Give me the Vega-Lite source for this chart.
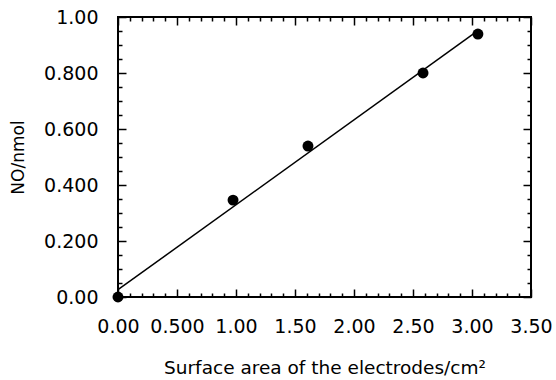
{
  "$schema": "https://vega.github.io/schema/vega-lite/v6.json",
  "width": 413,
  "height": 280,
  "autosize": {"type": "none"},
  "padding": {"left": 118, "top": 17, "right": 25, "bottom": 83},
  "background": "white",
  "config": {
    "view": {"stroke": "black", "strokeWidth": 2},
    "font": "DejaVu Sans",
    "axis": {
      "domain": false,
      "grid": false,
      "tickColor": "black",
      "tickWidth": 1.5,
      "labelColor": "black",
      "titleColor": "black",
      "labelFont": "DejaVu Sans",
      "titleFont": "DejaVu Sans",
      "labelFontSize": 19,
      "titleFontSize": 18.5,
      "titleFontWeight": "normal",
      "labelOverlap": false,
      "labelFlush": false,
      "labelBound": false
    }
  },
  "datasets": {
    "pts": [
      {"area": 0.0, "no": 0.0},
      {"area": 0.975, "no": 0.346},
      {"area": 1.61, "no": 0.539},
      {"area": 2.585, "no": 0.8},
      {"area": 3.05, "no": 0.939}
    ],
    "fit": [
      {"area": 0.0, "no": 0.026},
      {"area": 3.05, "no": 0.951}
    ]
  },
  "resolve": {"axis": {"x": "independent", "y": "independent"}},
  "layer": [
    {
      "data": {"name": "fit"},
      "mark": {"type": "line", "color": "black", "strokeWidth": 1.5},
      "encoding": {
        "x": {"field": "area", "type": "quantitative", "scale": {"domain": [0, 3.5], "nice": false, "zero": false},
          "axis": {"orient": "top", "values": [0, 0.5, 1, 1.5, 2, 2.5, 3, 3.5], "labels": false, "tickSize": -8, "title": null}},
        "y": {"field": "no", "type": "quantitative", "scale": {"domain": [0, 1], "nice": false},
          "axis": {"orient": "right", "values": [0, 0.2, 0.4, 0.6, 0.8, 1.0], "labels": false, "tickSize": -8, "title": null}}
      }
    },
    {
      "data": {"name": "pts"},
      "mark": {"type": "point", "opacity": 0},
      "encoding": {
        "x": {"field": "area", "type": "quantitative",
          "axis": {"orient": "bottom", "values": [0.1,0.2,0.3,0.4,0.6,0.7,0.8,0.9,1.1,1.2,1.3,1.4,1.6,1.7,1.8,1.9,2.1,2.2,2.3,2.4,2.6,2.7,2.8,2.9,3.1,3.2,3.3,3.4], "labels": false, "tickSize": -4, "title": null}},
        "y": {"field": "no", "type": "quantitative",
          "axis": {"orient": "left", "values": [0.05,0.1,0.15,0.25,0.3,0.35,0.45,0.5,0.55,0.65,0.7,0.75,0.85,0.9,0.95], "labels": false, "tickSize": -4, "title": null}}
      }
    },
    {
      "data": {"name": "pts"},
      "mark": {"type": "point", "opacity": 0},
      "encoding": {
        "x": {"field": "area", "type": "quantitative",
          "axis": {"orient": "top", "values": [0.1,0.2,0.3,0.4,0.6,0.7,0.8,0.9,1.1,1.2,1.3,1.4,1.6,1.7,1.8,1.9,2.1,2.2,2.3,2.4,2.6,2.7,2.8,2.9,3.1,3.2,3.3,3.4], "labels": false, "tickSize": -4, "title": null}},
        "y": {"field": "no", "type": "quantitative",
          "axis": {"orient": "right", "values": [0.05,0.1,0.15,0.25,0.3,0.35,0.45,0.5,0.55,0.65,0.7,0.75,0.85,0.9,0.95], "labels": false, "tickSize": -4, "title": null}}
      }
    },
    {
      "data": {"name": "pts"},
      "mark": {"type": "circle", "color": "black", "opacity": 1, "size": 120},
      "encoding": {
        "x": {"field": "area", "type": "quantitative",
          "axis": {"orient": "bottom", "values": [0, 0.5, 1, 1.5, 2, 2.5, 3, 3.5], "labelExpr": "datum.value == 0 ? '0.00' : format(datum.value, '.3r')", "tickSize": -8, "labelPadding": 28,
            "title": "Surface area of the electrodes/cm²", "titlePadding": 22}},
        "y": {"field": "no", "type": "quantitative",
          "axis": {"orient": "left", "values": [0, 0.2, 0.4, 0.6, 0.8, 1.0], "labelExpr": "datum.value == 0 ? '0.00' : format(datum.value, '.3r')", "tickSize": -8, "labelPadding": 28,
            "title": "NO/nmol", "titleFontSize": 17, "titlePadding": 16}}
      }
    }
  ]
}
